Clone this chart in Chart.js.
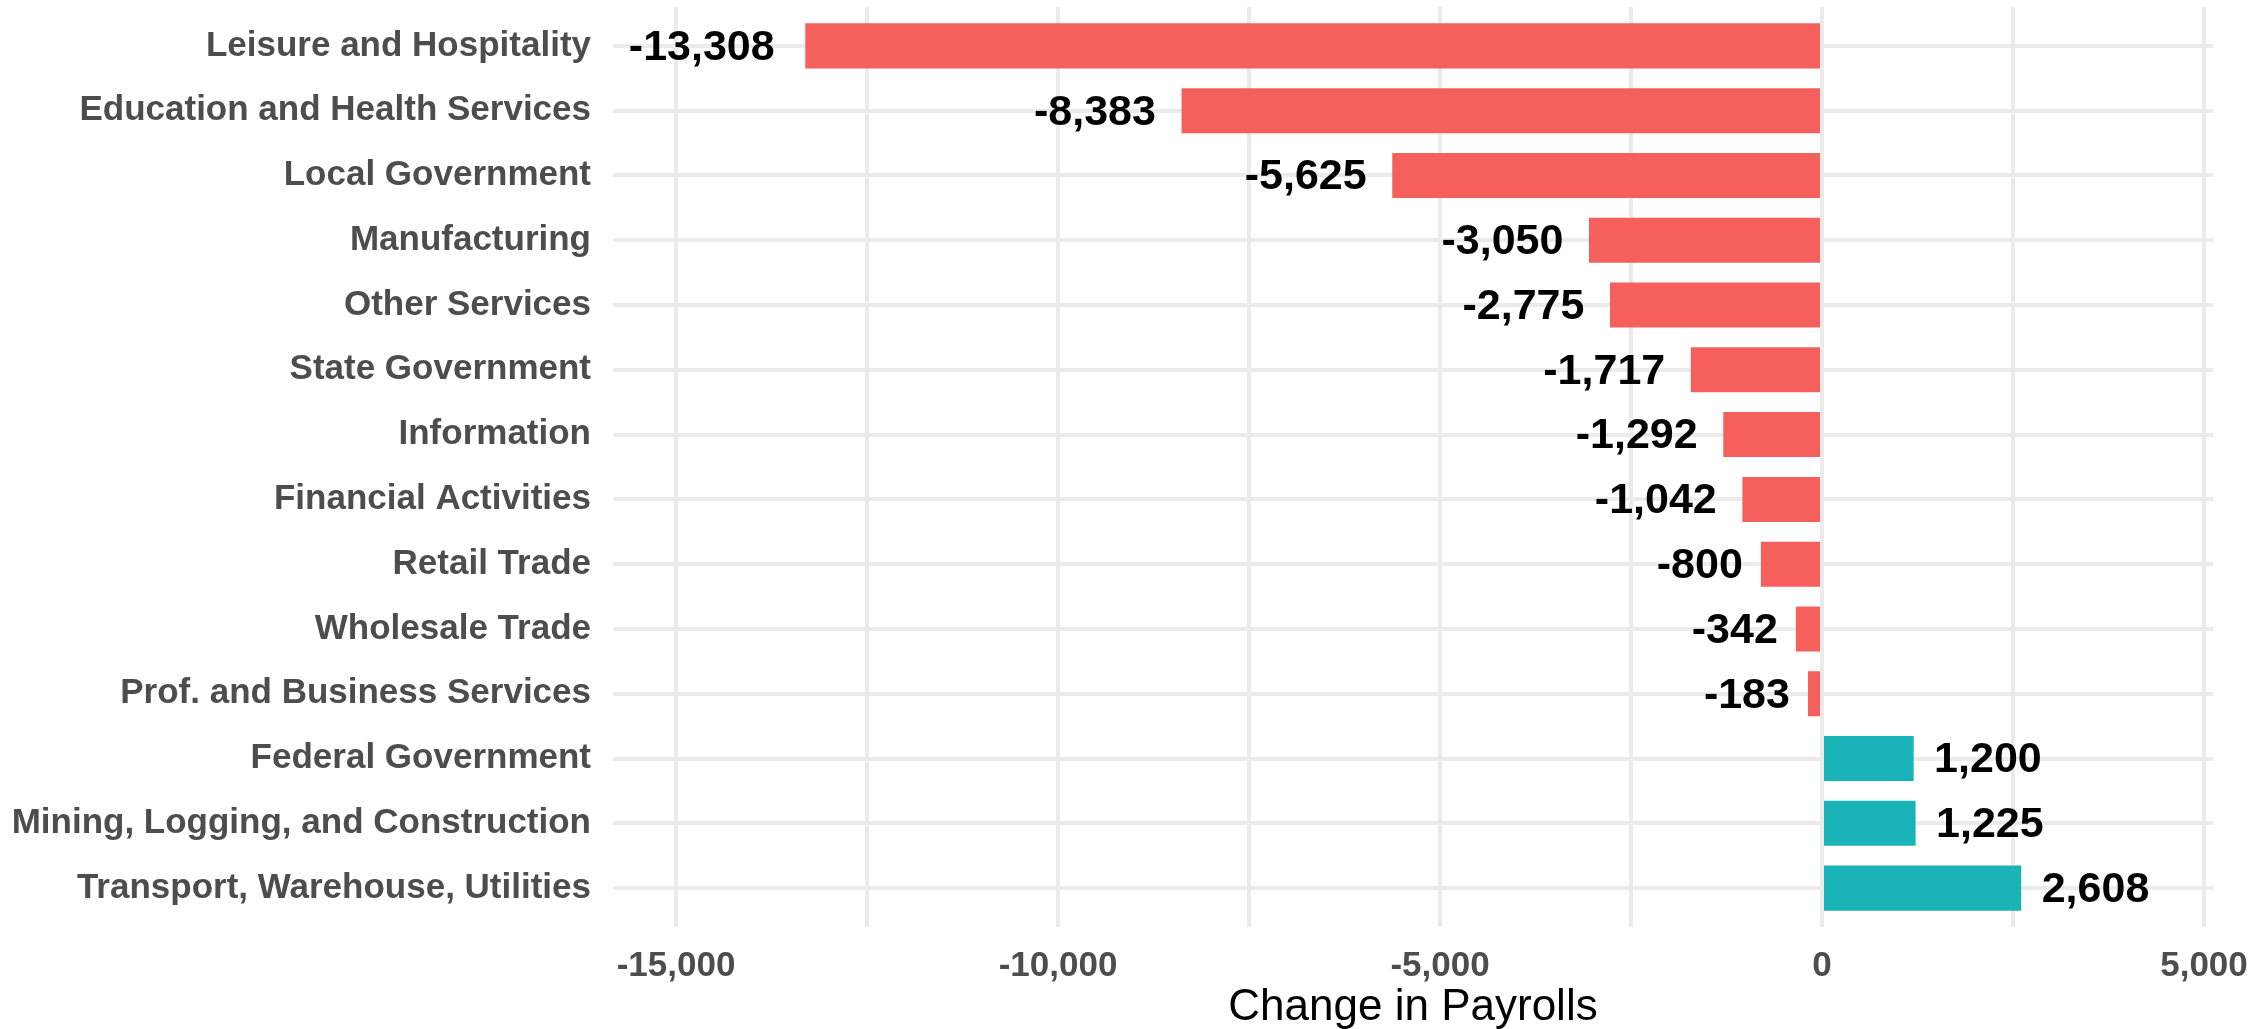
<!DOCTYPE html>
<html>
<head>
<meta charset="utf-8">
<script src="https://cdn.jsdelivr.net/npm/chart.js@4/dist/chart.umd.min.js"></script>
<style>
  html, body { margin: 0; padding: 0; overflow: hidden; background: #ffffff; width: 2255px; height: 1029px; }
  canvas { display: block; }
</style>
</head>
<body>
<canvas id="c" width="2275" height="1045"></canvas>
<script>
const categories = [
  "Leisure and Hospitality",
  "Education and Health Services",
  "Local Government",
  "Manufacturing",
  "Other Services",
  "State Government",
  "Information",
  "Financial Activities",
  "Retail Trade",
  "Wholesale Trade",
  "Prof. and Business Services",
  "Federal Government",
  "Mining, Logging, and Construction",
  "Transport, Warehouse, Utilities"
];
const payrollChange = [-13308, -8383, -5625, -3050, -2775, -1717, -1292, -1042, -800, -342, -183, 1200, 1225, 2608];
const xTickValues = [-15000, -12500, -10000, -7500, -5000, -2500, 0, 2500, 5000];
const xLabelledTicks = [-15000, -10000, -5000, 0, 5000];

const NEG_COLOR = '#F5605C';
const POS_COLOR = '#1AB3B8';
const FONT = '"Liberation Sans", Arial, Helvetica, sans-serif';
const fmt = v => v.toLocaleString('en-US');

const points = payrollChange.map((v, i) => ({ x: v, y: i + 1 }));

const valueLabels = {
  id: 'valueLabels',
  afterDatasetsDraw(chart) {
    const ctx = chart.ctx;
    const meta = chart.getDatasetMeta(0);
    ctx.save();
    ctx.font = 'bold 43px ' + FONT;
    ctx.fillStyle = '#000000';
    ctx.textBaseline = 'middle';
    meta.data.forEach((bar, i) => {
      const v = payrollChange[i];
      const txt = fmt(v);
      const w = ctx.measureText(txt).width;
      if (v < 0) {
        ctx.textAlign = 'right';
        ctx.fillText(txt, bar.x - 0.21 * w, bar.y + 2);
      } else {
        ctx.textAlign = 'left';
        ctx.fillText(txt, bar.x + 0.19 * w, bar.y + 2);
      }
    });
    ctx.restore();
  }
};

new Chart(document.getElementById('c'), {
  type: 'bar',
  data: {
    datasets: [{
      data: points,
      backgroundColor: payrollChange.map(v => v < 0 ? NEG_COLOR : POS_COLOR),
      borderWidth: 0,
      categoryPercentage: 1,
      barPercentage: 0.695
    }]
  },
  options: {
    indexAxis: 'y',
    responsive: false,
    animation: false,
    devicePixelRatio: 1,
    events: [],
    layout: { padding: { left: 0, right: 62, top: 7, bottom: 0 } },
    plugins: {
      legend: { display: false },
      tooltip: { enabled: false },
      title: { display: false }
    },
    scales: {
      x: {
        type: 'linear',
        position: 'bottom',
        min: -15825,
        max: 5118,
        offset: false,
        afterBuildTicks: s => { s.ticks = xTickValues.map(v => ({ value: v })); },
        afterFit: s => { s.height = 118; s.paddingLeft = 0; s.paddingRight = 0; },
        grid: { color: '#EBEBEB', lineWidth: 4, drawTicks: false, offset: false },
        border: { display: false },
        ticks: {
          autoSkip: false,
          maxRotation: 0,
          padding: 18,
          color: '#4D4D4D',
          font: { family: FONT, size: 35, weight: 'bold' },
          callback: v => xLabelledTicks.includes(v) ? fmt(v) : ''
        },
        title: {
          display: true,
          text: 'Change in Payrolls',
          color: '#000000',
          font: { family: FONT, size: 44, weight: 'normal' },
          padding: { top: 0, bottom: 11 }
        }
      },
      y: {
        type: 'linear',
        position: 'left',
        reverse: true,
        min: 0.4,
        max: 14.6,
        offset: false,
        afterBuildTicks: s => { s.ticks = categories.map((c, i) => ({ value: i + 1 })); },
        afterFit: s => { s.width = 613; s.paddingTop = 0; s.paddingBottom = 0; },
        grid: { color: '#EBEBEB', lineWidth: 4, drawTicks: false, offset: false },
        border: { display: false },
        ticks: {
          autoSkip: false,
          padding: 22,
          color: '#4D4D4D',
          font: { family: FONT, size: 35, weight: 'bold' },
          callback: v => categories[Math.round(v) - 1] || ''
        }
      }
    }
  },
  plugins: [valueLabels]
});
</script>
</body>
</html>
